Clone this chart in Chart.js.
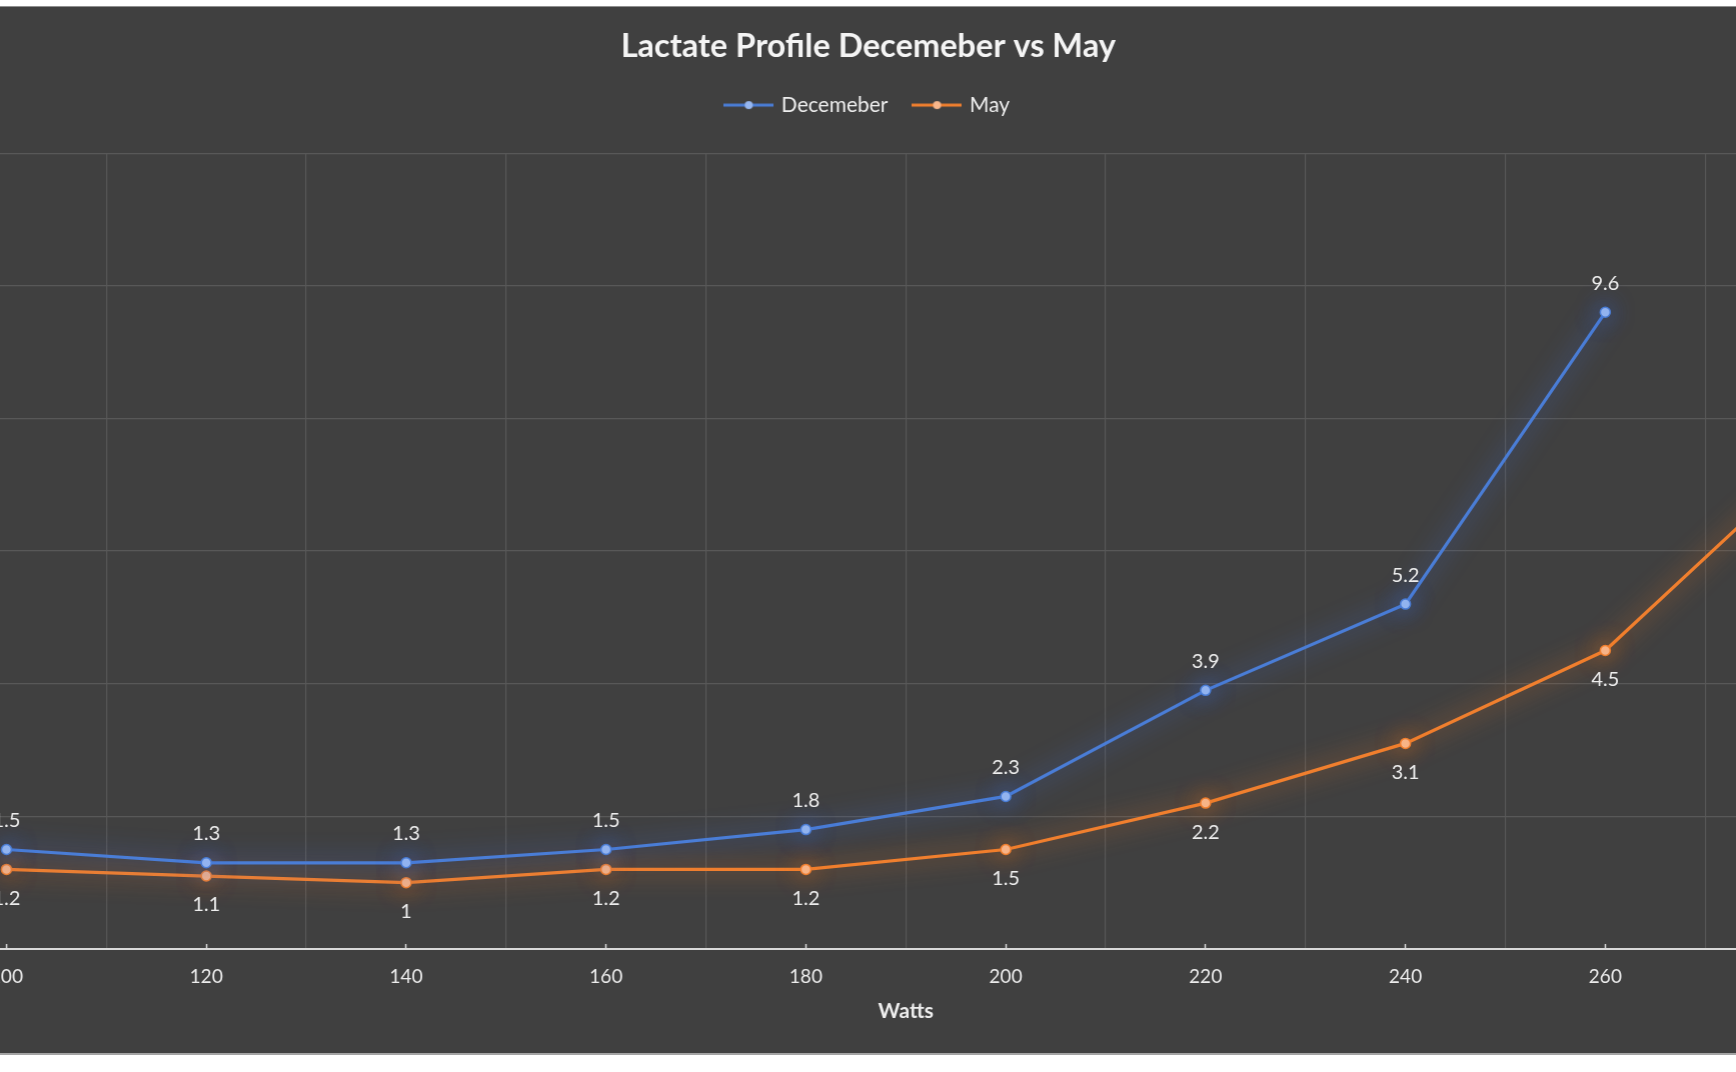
<!DOCTYPE html>
<html><head><meta charset="utf-8">
<script src="https://cdn.jsdelivr.net/npm/chart.js@4/dist/chart.umd.min.js"></script>
<style>
html,body{margin:0;padding:0;background:#fff;overflow:hidden;width:1736px;height:1072px;}
#frame{position:absolute;left:0;top:6px;width:1736px;height:1046px;background:#404040;border-top:1px solid #8f8f8f;border-bottom:2px solid #a3a3a3;overflow:hidden;}
#wrap{position:absolute;left:-175px;top:0;width:2085.5px;height:1046px;}
</style></head><body>
<div id="frame"><div id="wrap"><canvas id="c"></canvas></div></div>
<script>
// ---- data ----
const chartTitle = 'Lactate Profile Decemeber vs May';
const xAxisTitle = 'Watts';
const seriesNames = ['Decemeber', 'May'];
const watts = [100, 120, 140, 160, 180, 200, 220, 240, 260, 280];
const december = [1.5, 1.3, 1.3, 1.5, 1.8, 2.3, 3.9, 5.2, 9.6, null];
const may = [1.2, 1.1, 1.0, 1.2, 1.2, 1.5, 2.2, 3.1, 4.5, 7.3];
const xTickLabels = [100, 120, 140, 160, 180, 200, 220, 240, 260];
const yMin = 0, yMax = 12, yStep = 2;

// ---- derived ----
const wStep = watts[1] - watts[0];
const xMin = watts[0] - wStep / 2;
const xMax = watts[watts.length - 1] + wStep / 2;
const gridWatts = watts.map(w => w - wStep / 2).concat([xMax]);

const COLORS = {
  dec: '#4a7dd6', decPoint: '#96b7f0', decGlow: 'rgba(65,115,235,0.85)',
  may: '#f07f2e', mayPoint: '#f8b78c', mayGlow: 'rgba(248,125,35,0.85)',
  grid: '#585858', axis: '#d9d9d9', text: '#ededed'
};

function legendImage(line, dot) {
  const c = document.createElement('canvas');
  c.width = 50; c.height = 12;
  const g = c.getContext('2d');
  g.strokeStyle = line; g.lineWidth = 3;
  g.beginPath(); g.moveTo(0, 6); g.lineTo(50, 6); g.stroke();
  g.fillStyle = dot; g.beginPath(); g.arc(25, 6, 4, 0, Math.PI * 2); g.fill();
  return c;
}

const glowPlugin = {
  id: 'glow',
  beforeDatasetDraw(chart, args) {
    const ds = chart.data.datasets[args.index];
    chart.ctx.save();
    chart.ctx.shadowColor = ds.glowColor;
    chart.ctx.shadowBlur = 24;
  },
  afterDatasetDraw(chart) { chart.ctx.restore(); }
};

const dataLabelPlugin = {
  id: 'dataLabels',
  afterDatasetsDraw(chart) {
    const ctx = chart.ctx;
    ctx.save();
    ctx.font = '20px Lato';
    ctx.fillStyle = COLORS.text;
    ctx.textAlign = 'center';
    ctx.textBaseline = 'middle';
    chart.data.datasets.forEach((ds, di) => {
      const meta = chart.getDatasetMeta(di);
      const dir = ds.labelBelow ? 1 : -1;
      meta.data.forEach((el, i) => {
        const v = ds.data[i].y;
        if (v === null || v === undefined) return;
        ctx.fillText(String(v), el.x, el.y + dir * 29);
      });
    });
    ctx.restore();
  }
};

function build() {
  Chart.defaults.font.family = 'Lato';
  Chart.defaults.color = COLORS.text;
  const imgs = [legendImage(COLORS.dec, COLORS.decPoint), legendImage(COLORS.may, COLORS.mayPoint)];
  new Chart(document.getElementById('c'), {
    type: 'line',
    data: {
      datasets: [
        {
          label: seriesNames[0],
          data: watts.map((w, i) => ({ x: w, y: december[i] })),
          borderColor: COLORS.dec, backgroundColor: COLORS.decPoint,
          pointBackgroundColor: COLORS.decPoint, pointBorderColor: COLORS.dec,
          borderWidth: 3.2, pointRadius: 5, pointBorderWidth: 1.5, tension: 0,
          glowColor: COLORS.decGlow, labelBelow: false, xAxisID: 'x', yAxisID: 'y'
        },
        {
          label: seriesNames[1],
          data: watts.map((w, i) => ({ x: w, y: may[i] })),
          borderColor: COLORS.may, backgroundColor: COLORS.mayPoint,
          pointBackgroundColor: COLORS.mayPoint, pointBorderColor: COLORS.may,
          borderWidth: 3.2, pointRadius: 5, pointBorderWidth: 1.5, tension: 0,
          glowColor: COLORS.mayGlow, labelBelow: true, xAxisID: 'x', yAxisID: 'y'
        }
      ]
    },
    options: {
      responsive: true, maintainAspectRatio: false, animation: false,
      layout: { padding: 0 },
      plugins: {
        tooltip: { enabled: false },
        title: {
          display: true, text: chartTitle, color: '#f4f4f4',
          font: { size: 32.5, weight: 'bold' }, padding: { top: 20, bottom: 1.6 }
        },
        legend: {
          display: true, position: 'top',
          labels: {
            color: COLORS.text, font: { size: 21 }, padding: 27,
            usePointStyle: true, pointStyleWidth: 44,
            generateLabels(chart) {
              const items = Chart.defaults.plugins.legend.labels.generateLabels(chart);
              items.forEach((it, i) => { it.pointStyle = imgs[i]; });
              return items;
            }
          }
        }
      },
      scales: {
        x: {
          type: 'linear', position: 'bottom', min: xMin, max: xMax,
          afterBuildTicks(s) { s.ticks = xTickLabels.map(v => ({ value: v })); },
          afterFit(s) { s.height = 104; },
          ticks: { color: COLORS.text, font: { size: 19 }, padding: 21, maxRotation: 0, autoSkip: false,
                   callback: v => String(v) },
          grid: { display: true, drawOnChartArea: false, drawTicks: true, tickLength: -5,
                  tickColor: COLORS.axis, tickWidth: 1.5 },
          border: { display: true, color: COLORS.axis, width: 2 },
          title: { display: true, text: xAxisTitle, color: COLORS.text,
                   font: { size: 21, weight: 'bold' }, padding: { top: 0, bottom: 29 } }
        },
        xg: {
          type: 'linear', position: 'top', min: xMin, max: xMax,
          afterBuildTicks(s) { s.ticks = gridWatts.map(v => ({ value: v })); },
          afterFit(s) { s.height = 27.5; },
          ticks: { display: false },
          grid: { color: COLORS.grid, lineWidth: 1.2, drawTicks: false },
          border: { display: false }
        },
        y: {
          type: 'linear', position: 'left', min: yMin, max: yMax,
          afterFit(s) { s.width = 81.5; },
          ticks: { display: false, stepSize: yStep },
          grid: { color: COLORS.grid, lineWidth: 1.2, drawTicks: false },
          border: { display: false }
        }
      }
    },
    plugins: [glowPlugin, dataLabelPlugin]
  });
}

const fontLoads = ['20px Lato', 'bold 32.5px Lato', '21px Lato'].map(f => document.fonts.load(f));
Promise.all(fontLoads).then(build, build);
</script>
</body></html>
